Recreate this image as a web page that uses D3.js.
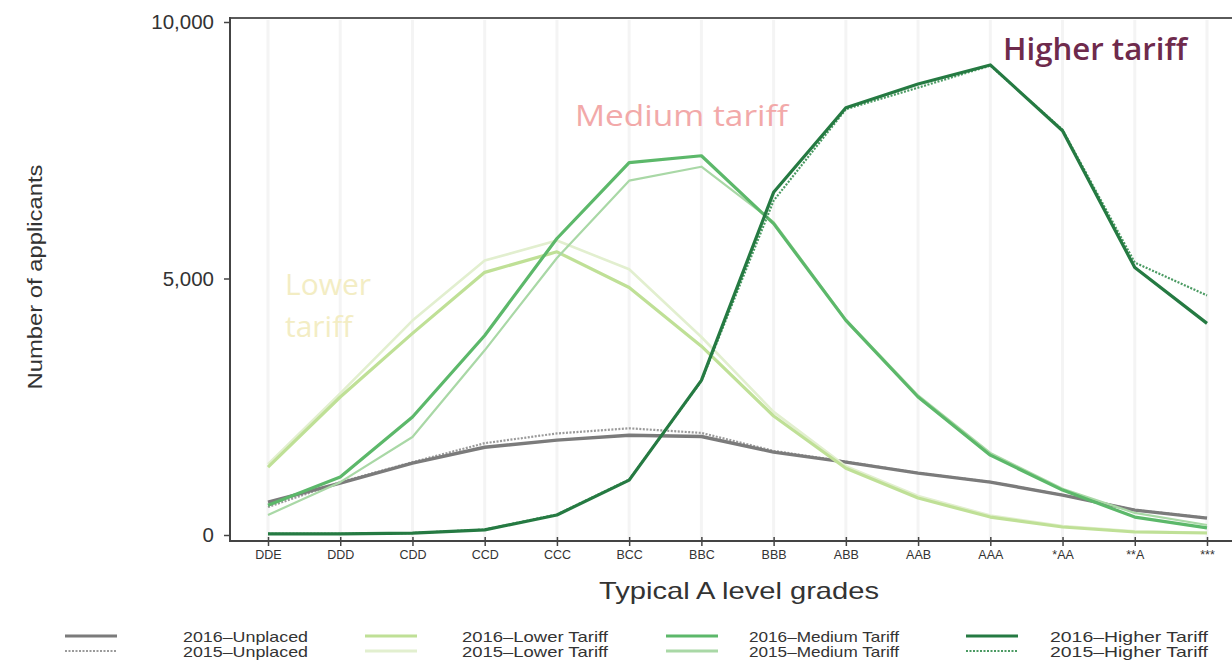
<!DOCTYPE html>
<html>
<head>
<meta charset="utf-8">
<script src="https://cdn.jsdelivr.net/npm/d3@7"></script>
<style>
  html, body { margin: 0; padding: 0; background: #fff; }
  svg { display: block; }
</style>
</head>
<body>
<svg id="chart" width="1232" height="663"></svg>
<script>
const categories = ["DDE","DDD","CDD","CCD","CCC","BCC","BBC","BBB","ABB","AAB","AAA","*AA","**A","***"];
const tickLabels = ["DDE","DDD","CDD","CCD","CCC","BCC","BBC","BBB","ABB","AAB","AAA","*AA","**A","***"];
const yTicks = [0, 5000, 10000];

const unplaced2016 = [640, 1010, 1400, 1710, 1850, 1945, 1920, 1615, 1420, 1206, 1031, 778, 486, 330];
const unplaced2015 = [545, 1030, 1420, 1790, 1980, 2080, 1990, 1640, 1430, 1210, 1035, 780, 490, 335];
const lower2016    = [1325, 2690, 3930, 5120, 5520, 4825, 3680, 2320, 1300, 720, 350, 156, 58, 39];
const lower2015    = [1380, 2760, 4180, 5350, 5740, 5180, 3860, 2400, 1340, 760, 380, 175, 70, 45];
const medium2016   = [580, 1130, 2300, 3890, 5780, 7257, 7393, 6070, 4183, 2690, 1556, 875, 350, 140];
const medium2015   = [390, 1030, 1910, 3600, 5400, 6907, 7179, 6100, 4200, 2720, 1600, 900, 430, 195];
const higher2016   = [20, 20, 35, 100, 390, 1070, 3015, 6680, 8330, 8790, 9163, 7880, 5214, 4125];
const higher2015   = [20, 22, 38, 105, 400, 1080, 3000, 6517, 8300, 8720, 9150, 7900, 5311, 4670];

const seriesNames = ["2016–Unplaced","2015–Unplaced","2016–Lower Tariff","2015–Lower Tariff","2016–Medium Tariff","2015–Medium Tariff","2016–Higher Tariff","2015–Higher Tariff"];

const series = [
  {name: seriesNames[1], values: unplaced2015, color: "#9a9a9a", width: 2.2, dash: "2,1.5"},
  {name: seriesNames[0], values: unplaced2016, color: "#7b7b7b", width: 3.4, dash: null},
  {name: seriesNames[3], values: lower2015, color: "#e2efcf", width: 2.6, dash: null},
  {name: seriesNames[2], values: lower2016, color: "#bfe096", width: 3.2, dash: null},
  {name: seriesNames[5], values: medium2015, color: "#a9d8a6", width: 2.2, dash: null},
  {name: seriesNames[4], values: medium2016, color: "#5cb86a", width: 3.2, dash: null},
  {name: seriesNames[7], values: higher2015, color: "#4a9a62", width: 2.2, dash: "2,1.5"},
  {name: seriesNames[6], values: higher2016, color: "#257a42", width: 3.2, dash: null}
];

const svg = d3.select("#chart");
const x = d3.scalePoint().domain(categories).range([268, 1207]);
const y = d3.scaleLinear().domain([0, 10000]).range([535, 22]);

// faint vertical gridlines
svg.append("g").selectAll("line").data(categories).join("line")
  .attr("x1", d => x(d)).attr("x2", d => x(d))
  .attr("y1", 20).attr("y2", 540)
  .attr("stroke", "#f4f4f4").attr("stroke-width", 3);

// frame: top border
svg.append("line").attr("x1", 230).attr("x2", 1232).attr("y1", 18).attr("y2", 18)
  .attr("stroke", "#5a5a5a").attr("stroke-width", 2.2);

// annotations
svg.append("text").attr("x", 1003).attr("y", 60)
  .attr("font-family", "'Open Sans', sans-serif").attr("font-size", 31).attr("font-weight", 600)
  .attr("fill", "#6e2a4c").attr("textLength", 184).attr("lengthAdjust", "spacingAndGlyphs")
  .text("Higher tariff");
svg.append("text").attr("x", 575).attr("y", 126)
  .attr("font-family", "'Open Sans', sans-serif").attr("font-size", 29).attr("font-weight", 500)
  .attr("fill", "#f2a9a9").attr("textLength", 213).attr("lengthAdjust", "spacingAndGlyphs")
  .text("Medium tariff");
svg.append("text").attr("x", 285).attr("y", 295)
  .attr("font-family", "'Open Sans', sans-serif").attr("font-size", 30)
  .attr("fill", "#f3edc4").text("Lower");
svg.append("text").attr("x", 285).attr("y", 337)
  .attr("font-family", "'Open Sans', sans-serif").attr("font-size", 30)
  .attr("fill", "#f3edc4").text("tariff");

// lines
const line = d3.line().x((d, i) => x(categories[i])).y(d => y(d));
svg.append("g").selectAll("path").data(series).join("path")
  .attr("d", d => line(d.values))
  .attr("fill", "none")
  .attr("stroke", d => d.color)
  .attr("stroke-width", d => d.width)
  .attr("stroke-dasharray", d => d.dash)
  .attr("stroke-linejoin", "round");

// y axis
const yAxis = d3.axisLeft(y).tickValues(yTicks).tickSize(6).tickFormat(d3.format(","));
const gy = svg.append("g").attr("transform", "translate(230,0)").call(yAxis);
gy.select(".domain").remove();
gy.selectAll(".tick line").attr("stroke", "#444").attr("stroke-width", 1.5);
gy.selectAll(".tick text").attr("font-family", "'Liberation Sans', Arial, sans-serif")
  .attr("font-size", 20.5).attr("fill", "#333").attr("x", -16);
svg.append("line").attr("x1", 230).attr("x2", 230).attr("y1", 17).attr("y2", 542)
  .attr("stroke", "#444").attr("stroke-width", 2);

// x axis
const xAxis = d3.axisBottom(x).tickSize(5).tickFormat((d, i) => tickLabels[i]);
const gx = svg.append("g").attr("transform", "translate(0,541)").call(xAxis);
gx.select(".domain").remove();
gx.selectAll(".tick line").attr("stroke", "#444").attr("stroke-width", 1.5).attr("y1", -4);
gx.selectAll(".tick text").attr("font-family", "'Liberation Sans Narrow', 'Liberation Sans', Arial, sans-serif")
  .attr("font-size", 12.5).attr("fill", "#333").attr("y", 9);
svg.append("line").attr("x1", 229).attr("x2", 1232).attr("y1", 541).attr("y2", 541)
  .attr("stroke", "#444").attr("stroke-width", 2);

// axis titles
svg.append("text").attr("x", 739).attr("y", 599).attr("text-anchor", "middle")
  .attr("font-family", "'Liberation Sans', Arial, sans-serif").attr("font-size", 24).attr("fill", "#333")
  .attr("textLength", 280).attr("lengthAdjust", "spacingAndGlyphs")
  .text("Typical A level grades");
svg.append("text").attr("transform", "translate(42,277) rotate(-90)").attr("text-anchor", "middle")
  .attr("font-family", "'Liberation Sans', Arial, sans-serif").attr("font-size", 21).attr("fill", "#333")
  .attr("textLength", 225).attr("lengthAdjust", "spacingAndGlyphs")
  .text("Number of applicants");

// legend
const legendCols = [
  {s16: 1, s15: 0, lx: 65, tx: 183, tw: 125},
  {s16: 3, s15: 2, lx: 365, tx: 462, tw: 146},
  {s16: 5, s15: 4, lx: 666, tx: 749, tw: 150},
  {s16: 7, s15: 6, lx: 966, tx: 1050, tw: 158}
];
const leg = svg.append("g");
legendCols.forEach(c => {
  [[c.s16, 636], [c.s15, 651]].forEach(([si, yy]) => {
    const s = series[si];
    leg.append("line").attr("x1", c.lx).attr("x2", c.lx + 52).attr("y1", yy).attr("y2", yy)
      .attr("stroke", s.color).attr("stroke-width", s.dash ? 2 : 3)
      .attr("stroke-dasharray", s.dash ? "2,1.5" : null);
    leg.append("text").attr("x", c.tx).attr("y", yy + 5.5)
      .attr("font-family", "'Liberation Sans Narrow', 'Liberation Sans', Arial, sans-serif")
      .attr("font-size", 15).attr("fill", "#333")
      .attr("textLength", c.tw).attr("lengthAdjust", "spacingAndGlyphs")
      .text(s.name);
  });
});
</script>
</body>
</html>
